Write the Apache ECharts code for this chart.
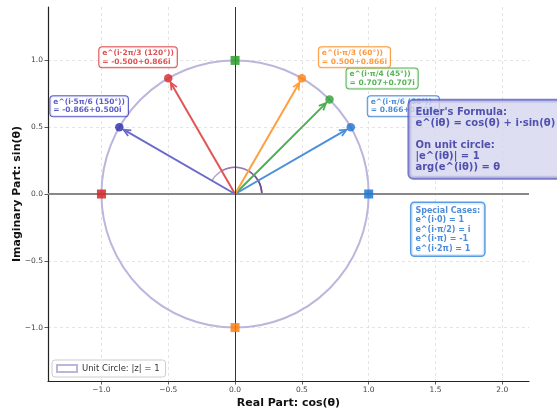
<!DOCTYPE html>
<html><head><meta charset="utf-8">
<script src="https://cdn.jsdelivr.net/npm/echarts@6/dist/echarts.min.js"></script>
<style>html,body{margin:0;padding:0;background:#fff}#c{width:557px;height:409px}</style>
</head><body><div id="c"></div>
<script>
// ---- data ----
const angleDeg = [30, 45, 60, 120, 150];
const angleNames = ['π/6', 'π/4', 'π/3', '2π/3', '5π/6'];
const reParts = [0.866, 0.707, 0.500, -0.500, -0.866];
const imParts = [0.500, 0.707, 0.866, 0.866, 0.500];
const axisRe = [1, 0, -1, 0];
const axisIm = [0, 1, 0, -1];
const unitRadius = 1;
const arcRadius = 0.2;
const xTicks = [-1, -0.5, 0, 0.5, 1, 1.5, 2];
const yTicks = [-1, -0.5, 0, 0.5, 1];
const eulerLines = ["Euler's Formula:", "e^(iθ) = cos(θ) + i·sin(θ)", "", "On unit circle:", "|e^(iθ)| = 1", "arg(e^(iθ)) = θ"];
const specialLines = ["Special Cases:", "e^(i·0) = 1", "e^(i·π/2) = i", "e^(i·π) = -1", "e^(i·2π) = 1"];

// ---- styles ----
const arrowColors = ['#4a8fdc', '#4caf50', '#ffa040', '#e05555', '#6a6acc'];
const pointColors = ['#1f6fd0', '#2ca02c', '#ff7f0e', '#d62728', '#2a2ab0'];
const labelColors = ['#1f6fd0', '#2ca02c', '#ff7f0e', '#d62728', '#3333bb'];
const squareColors = ['#1f77d4', '#2ca02c', '#d62728', '#ff7f0e'];
const FONT = 'DejaVu Sans';

const fmtTick = v => (v < 0 ? '\u2212' : '') + Math.abs(v).toFixed(1);

const chart = echarts.init(document.getElementById('c'), null, {renderer: 'canvas'});

const pointData = reParts.map((r, i) => ({
  value: [r, imParts[i]],
  itemStyle: {color: pointColors[i]},
  label: {
    show: true,
    position: 'inside',
    offset: r > 0 ? [17, -21] : [-69, -21],
    formatter: `e^(i·${angleNames[i]} (${angleDeg[i]}°))\n= ${r.toFixed(3)}+${imParts[i].toFixed(3)}i`,
    color: labelColors[i],
    borderColor: labelColors[i],
    borderWidth: 1,
    borderRadius: 3,
    backgroundColor: '#fff',
    padding: [2, 3, 1, 3],
    fontSize: 7.5,
    lineHeight: 8.5,
    fontWeight: 'bold',
    fontFamily: FONT,
    align: 'left',
    verticalAlign: 'middle'
  }
}));

const option = {
  animation: false,
  textStyle: {fontFamily: FONT},
  grid: {left: 48, right: 28, top: 7, bottom: 28, outerBoundsMode: 'none', containLabel: false},
  legend: {
    left: 52, top: 360,
    orient: 'vertical',
    padding: [4, 6, 4, 4],
    itemWidth: 20, itemHeight: 7, itemGap: 4,
    borderColor: '#cccccc', borderWidth: 1, borderRadius: 3,
    backgroundColor: 'rgba(255,255,255,0.85)',
    textStyle: {fontSize: 8.5, color: '#333', fontFamily: FONT},
    data: [{name: 'Unit Circle: |z| = 1', icon: 'rect',
      itemStyle: {color: '#ffffff', borderColor: '#bcb6dc', borderWidth: 2}}]
  },
  xAxis: {
    type: 'value', min: -1.4, max: 2.2,
    name: 'Real Part: cos(θ)', nameLocation: 'middle', nameGap: 17, nameMoveOverlap: false,
    nameTextStyle: {fontSize: 11, fontWeight: 'bold', color: '#111', fontFamily: FONT},
    axisLine: {show: true, onZero: false, lineStyle: {color: '#222', width: 1.2}},
    axisTick: {show: true, length: 3.5, lineStyle: {color: '#333', width: 0.8}, customValues: xTicks},
    axisLabel: {fontSize: 7.5, color: '#444', margin: 5, formatter: fmtTick, customValues: xTicks},
    splitLine: {show: true, lineStyle: {color: '#dddddd', width: 0.8, type: [3, 3]}}
  },
  yAxis: {
    type: 'value', min: -1.4, max: 1.4,
    name: 'Imaginary Part: sin(θ)', nameLocation: 'middle', nameGap: 25, nameMoveOverlap: false,
    nameTextStyle: {fontSize: 11, fontWeight: 'bold', color: '#111', fontFamily: FONT},
    axisLine: {show: true, onZero: false, lineStyle: {color: '#222', width: 1.2}},
    axisTick: {show: true, length: 3.5, lineStyle: {color: '#333', width: 0.8}, customValues: yTicks},
    axisLabel: {fontSize: 7.5, color: '#444', margin: 5, formatter: fmtTick, customValues: yTicks},
    splitLine: {show: true, lineStyle: {color: '#dddddd', width: 0.8, type: [3, 3]}}
  },
  series: [
    {
      name: 'Unit Circle: |z| = 1',
      type: 'custom',
      z: 2,
      data: [[0, 0, unitRadius]],
      renderItem: (params, api) => {
        const c = api.coord([api.value(0), api.value(1)]);
        const r = api.size([api.value(2), api.value(2)])[0];
        return {type: 'circle', shape: {cx: c[0], cy: c[1], r: r},
          style: {fill: 'none', stroke: '#bcb6dc', lineWidth: 2}};
      },
      markLine: {
        silent: true, symbol: 'none', label: {show: false}, animation: false,
        data: [
          {yAxis: 0, lineStyle: {color: '#888', width: 2, type: 'solid'}},
          {xAxis: 0, lineStyle: {color: '#333', width: 1, type: 'solid'}}
        ]
      }
    },
    {
      name: 'arcs',
      type: 'custom',
      z: 3,
      data: angleDeg.map(d => [0, 0, d]),
      renderItem: (params, api) => {
        const c = api.coord([api.value(0), api.value(1)]);
        const r = api.size([arcRadius, arcRadius])[0];
        const t = api.value(2) * Math.PI / 180;
        return {type: 'arc', shape: {cx: c[0], cy: c[1], r: r, startAngle: -t, endAngle: 0, clockwise: true},
          style: {fill: 'none', stroke: 'rgba(106,61,138,0.45)', lineWidth: 1.5}};
      }
    },
    {
      name: 'arrows',
      type: 'custom',
      z: 4,
      data: reParts.map((r, i) => [r, imParts[i]]),
      renderItem: (params, api) => {
        const o = api.coord([0, 0]);
        const p = api.coord([api.value(0), api.value(1)]);
        const dx = p[0] - o[0], dy = p[1] - o[1];
        const L = Math.hypot(dx, dy), ux = dx / L, uy = dy / L;
        const tip = [p[0] - ux * 5, p[1] - uy * 5];
        const h = 7, w = 3.2;
        const b = [tip[0] - ux * h, tip[1] - uy * h];
        const l = [b[0] - uy * w, b[1] + ux * w], rr = [b[0] + uy * w, b[1] - ux * w];
        const col = arrowColors[params.dataIndex];
        return {type: 'group', children: [
          {type: 'line', shape: {x1: o[0], y1: o[1], x2: tip[0], y2: tip[1]}, style: {stroke: col, lineWidth: 2}},
          {type: 'polyline', shape: {points: [l, tip, rr]}, style: {stroke: col, lineWidth: 1.8, fill: 'none'}}
        ]};
      }
    },
    {
      name: 'axisPoints',
      type: 'scatter',
      z: 5,
      symbol: 'rect', symbolSize: 9,
      data: axisRe.map((r, i) => ({value: [r, axisIm[i]], itemStyle: {color: squareColors[i], opacity: 0.85}}))
    },
    {
      name: 'points',
      type: 'scatter',
      z: 6,
      symbol: 'circle', symbolSize: 8.5,
      data: pointData
    },
    {
      name: 'notes',
      type: 'scatter',
      z: 10,
      symbolSize: 0,
      data: [
        {value: [1.305, 0.6975], label: {
          show: true, position: 'inside', align: 'left', verticalAlign: 'top',
          formatter: eulerLines.join('\n'),
          color: '#2d2d9e', fontSize: 10, fontWeight: 'bold', lineHeight: 11, fontFamily: FONT,
          backgroundColor: '#d6d6ef', borderColor: '#5a5abb', borderWidth: 2, borderRadius: 4,
          padding: [6, 6, 5, 6]}},
        {value: [1.32, -0.0675], label: {
          show: true, position: 'inside', align: 'left', verticalAlign: 'top',
          formatter: specialLines.join('\n'),
          color: '#1f6fd0', fontSize: 8, fontWeight: 'bold', lineHeight: 9.5, fontFamily: FONT,
          backgroundColor: '#fff', borderColor: '#2f82e0', borderWidth: 1.5, borderRadius: 3,
          padding: [3, 4, 2, 4]}}
      ]
    }
  ]
};
chart.setOption(option);
</script></body></html>
